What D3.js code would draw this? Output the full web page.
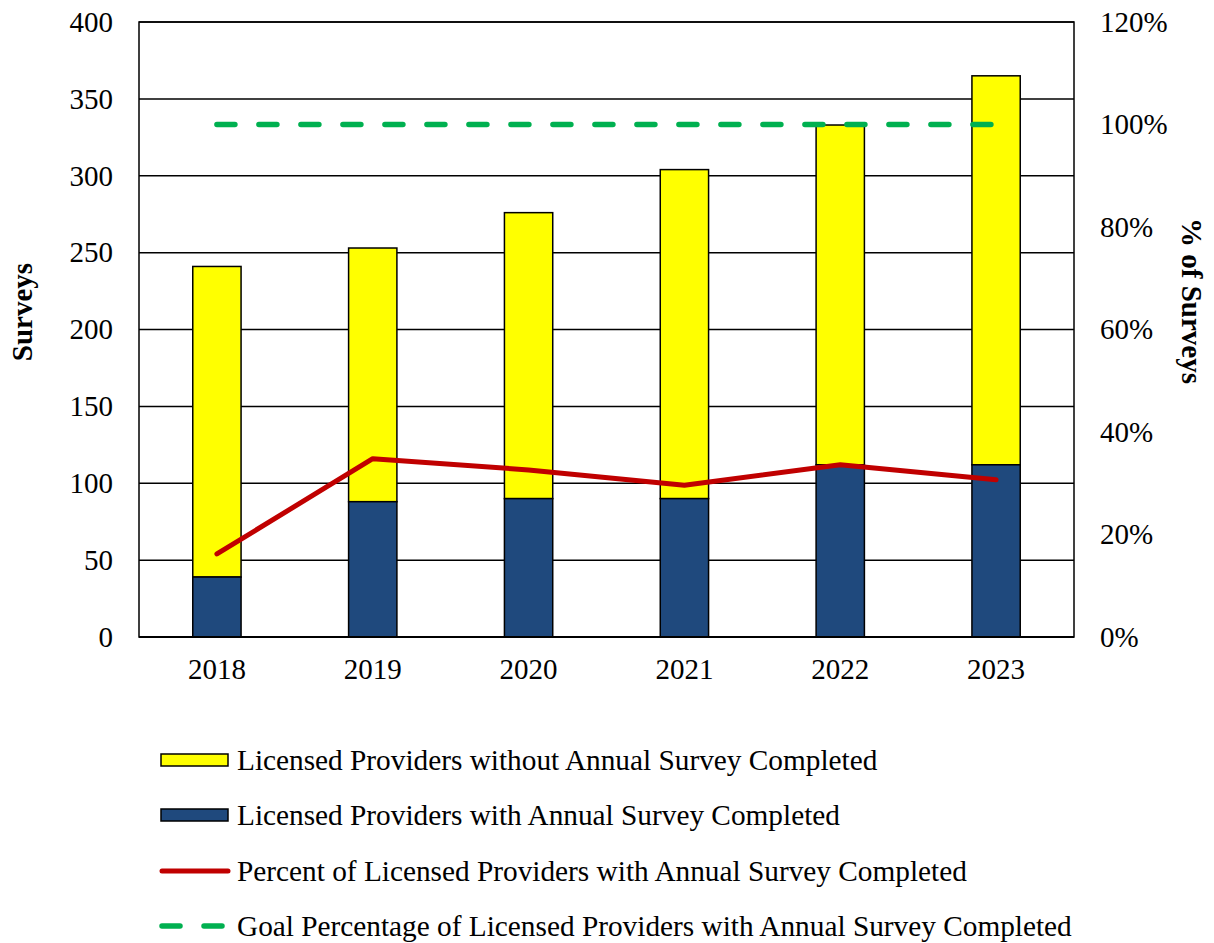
<!DOCTYPE html>
<html>
<head>
<meta charset="utf-8">
<script src="https://cdn.jsdelivr.net/npm/d3@7/dist/d3.min.js"></script>
<style>
  html, body { margin: 0; padding: 0; background: #fff; }
  svg { display: block; font-family: "Liberation Serif", "Times New Roman", serif; }
</style>
</head>
<body>
<svg id="chart" width="1214" height="943"></svg>
<script>
// Survey counts per year
const years = ["2018", "2019", "2020", "2021", "2022", "2023"];
const totalProviders = [241, 253, 276, 304, 333, 365];
const withSurvey = [39, 88, 90, 90, 112, 112];
const pctWithSurvey = [0.162, 0.348, 0.326, 0.296, 0.336, 0.307];
const goalPct = [1, 1, 1, 1, 1, 1];
const leftTicks = [0, 50, 100, 150, 200, 250, 300, 350, 400];
const rightTicks = [0, 0.2, 0.4, 0.6, 0.8, 1.0, 1.2];
const legendLabels = [
  "Licensed Providers without Annual Survey Completed",
  "Licensed Providers with Annual Survey Completed",
  "Percent of Licensed Providers with Annual Survey Completed",
  "Goal Percentage of Licensed Providers with Annual Survey Completed"
];

const colors = { without: "#FFFF00", with: "#1F497D", pct: "#C00000", goal: "#00B050" };
const fontSize = 29;
const legendFontSize = 29.3;

const svg = d3.select("#chart");
const m = { left: 139, right: 1074, top: 22, bottom: 637 };

const x = d3.scaleBand().domain(years).range([m.left, m.right]).paddingInner(0.69).paddingOuter(0.345);
const yL = d3.scaleLinear().domain([0, 400]).range([m.bottom, m.top]);
const yR = d3.scaleLinear().domain([0, 1.2]).range([m.bottom, m.top]);

// Gridlines
svg.append("g").selectAll("line").data(leftTicks.slice(1)).join("line")
  .attr("x1", m.left).attr("x2", m.right)
  .attr("y1", d => yL(d)).attr("y2", d => yL(d))
  .attr("stroke", "#000").attr("stroke-width", 1.5);

// Plot frame
svg.append("rect")
  .attr("x", m.left).attr("y", m.top)
  .attr("width", m.right - m.left).attr("height", m.bottom - m.top)
  .attr("fill", "none").attr("stroke", "#000").attr("stroke-width", 1.5);

// Stacked bars
const bars = svg.append("g");
years.forEach((yr, i) => {
  bars.append("rect")
    .attr("x", x(yr)).attr("width", x.bandwidth())
    .attr("y", yL(totalProviders[i])).attr("height", yL(withSurvey[i]) - yL(totalProviders[i]))
    .attr("fill", colors.without).attr("stroke", "#000").attr("stroke-width", 1.5);
  bars.append("rect")
    .attr("x", x(yr)).attr("width", x.bandwidth())
    .attr("y", yL(withSurvey[i])).attr("height", yL(0) - yL(withSurvey[i]))
    .attr("fill", colors.with).attr("stroke", "#000").attr("stroke-width", 1.5);
});

// Baseline
svg.append("line").attr("x1", m.left).attr("x2", m.right)
  .attr("y1", m.bottom).attr("y2", m.bottom).attr("stroke", "#000").attr("stroke-width", 2);

const cx = d => x(d) + x.bandwidth() / 2;

// Goal line
svg.append("path")
  .attr("d", d3.line().x((d, i) => cx(years[i])).y(d => yR(d))(goalPct))
  .attr("fill", "none").attr("stroke", colors.goal).attr("stroke-width", 5.5)
  .attr("stroke-linecap", "round").attr("stroke-dasharray", "18 24");

// Percent line
svg.append("path")
  .attr("d", d3.line().x((d, i) => cx(years[i])).y(d => yR(d))(pctWithSurvey))
  .attr("fill", "none").attr("stroke", colors.pct).attr("stroke-width", 5)
  .attr("stroke-linecap", "round").attr("stroke-linejoin", "round");

// Axes
const axL = svg.append("g").attr("transform", `translate(${m.left},0)`)
  .call(d3.axisLeft(yL).tickValues(leftTicks).tickSize(0).tickPadding(26));
const axR = svg.append("g").attr("transform", `translate(${m.right},0)`)
  .call(d3.axisRight(yR).tickValues(rightTicks).tickSize(0).tickPadding(26).tickFormat(d3.format(".0%")));
const axB = svg.append("g").attr("transform", `translate(0,${m.bottom})`)
  .call(d3.axisBottom(x).tickSize(0).tickPadding(21));
[axL, axR, axB].forEach(a => {
  a.select(".domain").remove();
  a.selectAll("text").attr("font-size", fontSize).attr("fill", "#000")
    .attr("font-family", "Liberation Serif, Times New Roman, serif");
});

// Axis titles
svg.append("text").attr("transform", "translate(32,312) rotate(-90)")
  .attr("text-anchor", "middle").attr("font-size", fontSize).attr("font-weight", "bold").text("Surveys");
svg.append("text").attr("transform", "translate(1182,301) rotate(90)")
  .attr("text-anchor", "middle").attr("font-size", fontSize).attr("font-weight", "bold").text("% of Surveys");

// Legend
const lg = svg.append("g");
const rowY = [760, 815, 871, 926];
legendLabels.forEach((label, i) => {
  const y = rowY[i];
  if (i < 2) {
    lg.append("rect").attr("x", 161).attr("y", y - 6).attr("width", 67).attr("height", 12)
      .attr("fill", i === 0 ? colors.without : colors.with).attr("stroke", "#000").attr("stroke-width", 1.5);
  } else if (i === 2) {
    lg.append("line").attr("x1", 162).attr("x2", 228).attr("y1", y).attr("y2", y)
      .attr("stroke", colors.pct).attr("stroke-width", 5).attr("stroke-linecap", "round");
  } else {
    lg.append("line").attr("x1", 162).attr("x2", 228).attr("y1", y).attr("y2", y)
      .attr("stroke", colors.goal).attr("stroke-width", 5.5).attr("stroke-linecap", "round")
      .attr("stroke-dasharray", "18 24");
  }
  lg.append("text").attr("x", 237).attr("y", y).attr("dy", "0.35em")
    .attr("font-size", legendFontSize).attr("fill", "#000").text(label);
});
</script>
</body>
</html>
